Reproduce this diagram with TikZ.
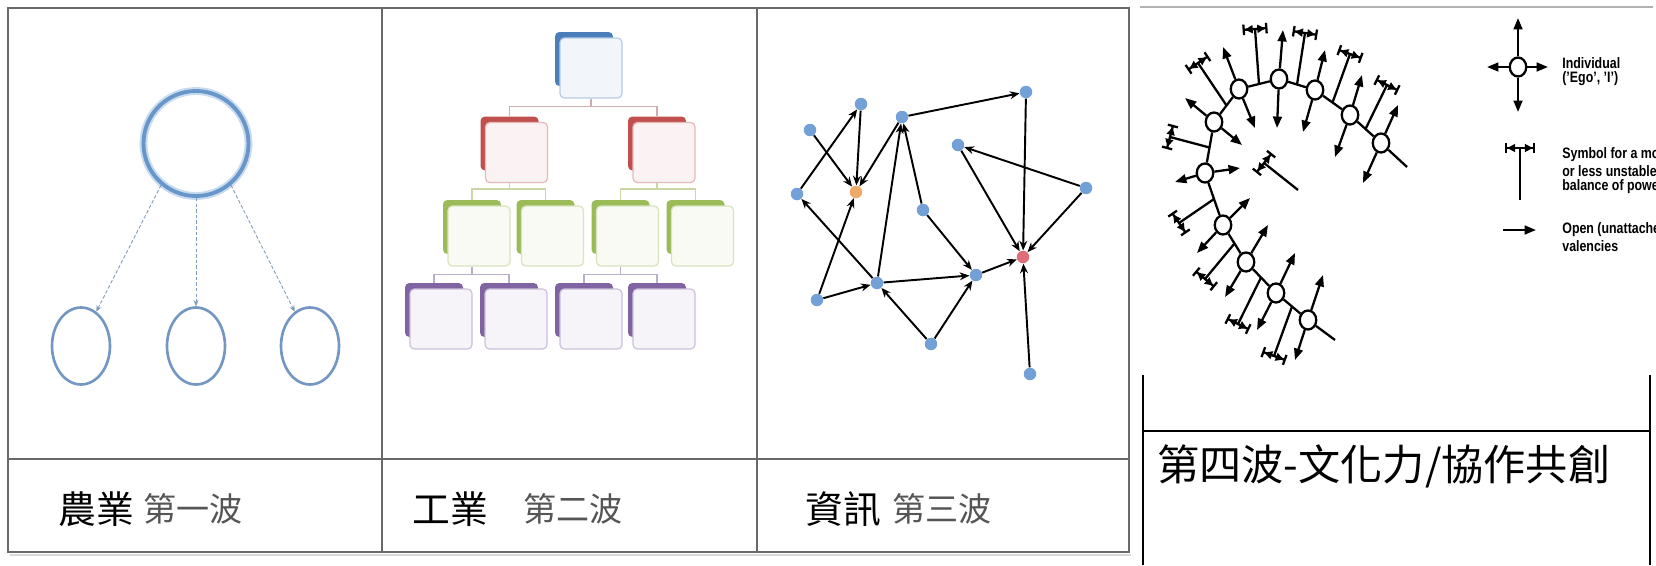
\documentclass[tikz,border=0pt]{standalone}
\usepackage{fontspec}
\setmainfont{Liberation Sans}
\newfontfamily\cjk{Noto Sans CJK TC}
\usetikzlibrary{arrows.meta,shapes.geometric,calc}
\definecolor{tline}{RGB}{105,105,105}
\definecolor{c1line}{RGB}{105,150,200}
\definecolor{c1glow}{RGB}{200,220,240}
\definecolor{c1small}{RGB}{115,150,195}
\definecolor{c1dash}{RGB}{130,155,185}
\definecolor{obblue}{RGB}{74,126,187}
\definecolor{obred}{RGB}{192,80,77}
\definecolor{obgreen}{RGB}{155,187,89}
\definecolor{obpurple}{RGB}{128,100,162}
\definecolor{cca}{RGB}{205,175,175}
\definecolor{ccb}{RGB}{200,215,165}
\definecolor{ccc}{RGB}{185,175,200}
\definecolor{ndblue}{RGB}{115,160,215}
\definecolor{ndorange}{RGB}{238,170,105}
\definecolor{ndred}{RGB}{222,110,120}
\definecolor{labgray}{RGB}{85,85,85}
\tikzset{
  tbl/.style={draw=tline, line width=1pt},
  bigc/.style={circle, draw=c1line, line width=2.2pt, minimum size=2.1cm, inner sep=0},
  smallc/.style={ellipse, draw=c1small, line width=1.5pt, minimum width=1.16cm, minimum height=1.54cm, inner sep=0},
  dashar/.style={draw=c1dash, line width=0.5pt, dash pattern=on 2pt off 1.2pt, -{Stealth[length=3.5pt,width=3pt]}},
  obox/.style={draw=#1!40, fill=#1!7, line width=0.7pt, rounded corners=2.5pt, minimum width=1.24cm, minimum height=1.2cm, inner sep=0},
  oback/.style={fill=#1, rounded corners=2.5pt, minimum width=1.16cm, minimum height=1.08cm, inner sep=0},
  oconn/.style={draw=#1, line width=0.8pt},
  nd/.style={circle, fill=ndblue, minimum size=0.25cm, inner sep=0},
  nedge/.style={draw=black, line width=1.1pt, -{Stealth[length=5.5pt,width=4.5pt]}},
  fc/.style={ellipse, draw=black, fill=white, line width=1.3pt, minimum width=0.33cm, minimum height=0.38cm, inner sep=0},
  blk/.style={draw=black, line width=1.3pt},
  val/.style={blk, -{Triangle[length=6.5pt,width=5pt]}},
  baltip/.style={blk, {Bar[width=6pt]Triangle[length=4.5pt,width=4.5pt]}-{Triangle[length=4.5pt,width=4.5pt]Bar[width=6pt]}},
  lab/.style={anchor=west, inner sep=0, font=\cjk\fontsize{21.5}{24}\selectfont},
  lab2/.style={anchor=west, inner sep=0, text=labgray, font=\cjk\fontsize{18.8}{22}\selectfont},
  leg/.style={anchor=west, inner sep=0, font=\bfseries\fontsize{8.6}{10}\selectfont},
}
\newcommand{\orgbox}[4]{\node[oback=#4] (#1b) at (#2-7,#3-9) {}; \node[obox=#4] (#1) at (#2,#3) {};}
\newcommand{\bal}[3]{\coordinate (#1s) at #2; \coordinate (#1e) at #3;
  \draw[blk] (#1s) -- (#1e);
  \draw[baltip] ($(#1e)!0.25cm!90:(#1s)$) -- ($(#1e)!0.25cm!-90:(#1s)$);}
\newcommand{\legtext}[1]{\scalebox{0.82}[1]{#1}}
\begin{document}
\begin{tikzpicture}[x=0.02cm,y=-0.02cm]
\useasboundingbox (0,0) rectangle (1656,565);
\fill[white] (0,0) rectangle (1656,565);
% ---------- table ----------
\draw[gray!30, line width=1.2pt] (10,555) -- (1131,555);
\draw[tbl] (8,8) rectangle (1129,552);
\draw[tbl] (382,8) -- (382,552);
\draw[tbl] (757,8) -- (757,552);
\draw[tbl] (8,459) -- (1129,459);
\node[lab] (l1a) at (58,509) {農業};
\node[lab2] (l1b) at (143,509) {第一波};
\node[lab] (l2a) at (412,509) {工業};
\node[lab2] (l2b) at (523,509) {第二波};
\node[lab] (l3a) at (805,509) {資訊};
\node[lab2] (l3b) at (892,509) {第三波};
% ---------- panel 1 ----------
\draw[c1glow, line width=4.5pt] (196,143.5) circle (1.05cm);
\node[bigc] (big) at (196,143.5) {};
\node[smallc] (e1) at (81,346) {};
\node[smallc] (e2) at (196,346) {};
\node[smallc] (e3) at (310,346) {};
\draw[dashar] (big.230) -- (e1.66);
\draw[dashar] (big.south) -- (e2.north);
\draw[dashar] (big.310) -- (e3.114);
% ---------- panel 2 ----------
\orgbox{t}{591}{68}{obblue}
\orgbox{rl}{516.5}{152.5}{obred}
\orgbox{rr}{664}{152.5}{obred}
\orgbox{ga}{479}{236}{obgreen}
\orgbox{gb}{552.5}{236}{obgreen}
\orgbox{gc}{627.5}{236}{obgreen}
\orgbox{gd}{702.5}{236}{obgreen}
\orgbox{pa}{441}{319}{obpurple}
\orgbox{pb}{516}{319}{obpurple}
\orgbox{pc}{591}{319}{obpurple}
\orgbox{pd}{664}{319}{obpurple}
\draw[oconn=cca] (t.south) -- ++(0,8) -| (rlb.north);
\draw[oconn=cca] (t.south) -- ++(0,8) -| (rrb.north);
\draw[oconn=ccb] (rlb.center |- rl.south) -- ++(0,6) -| (gab.north);
\draw[oconn=ccb] (rlb.center |- rl.south) -- ++(0,6) -| (gbb.north);
\draw[oconn=ccb] (rrb.center |- rr.south) -- ++(0,6) -| (gcb.north);
\draw[oconn=ccb] (rrb.center |- rr.south) -- ++(0,6) -| (gdb.north);
\draw[oconn=ccc] (gab.center |- ga.south) -- ++(0,8) -| (pab.north);
\draw[oconn=ccc] (gab.center |- ga.south) -- ++(0,8) -| (pbb.north);
\draw[oconn=ccc] (gcb.center |- gc.south) -- ++(0,8) -| (pcb.north);
\draw[oconn=ccc] (gcb.center |- gc.south) -- ++(0,8) -| (pdb.north);
% ---------- panel 3 ----------
\node[nd] (A) at (861,104) {};
\node[nd] (B) at (810,130) {};
\node[nd] (C) at (902,117) {};
\node[nd] (D) at (1026,92) {};
\node[nd] (E) at (958,145) {};
\node[nd] (F) at (797,194) {};
\node[nd, fill=ndorange] (G) at (856,192) {};
\node[nd] (H) at (923,210) {};
\node[nd] (I) at (1086,188) {};
\node[nd, fill=ndred] (J) at (1023,257) {};
\node[nd] (K) at (976,275) {};
\node[nd] (L) at (877,283) {};
\node[nd] (M) at (817,300) {};
\node[nd] (N) at (931,344) {};
\node[nd] (O) at (1030,374) {};
\draw[nedge] (B) -- (G);
\draw[nedge] (A) -- (G);
\draw[nedge] (C) -- (G);
\draw[nedge] (F) -- (A);
\draw[nedge] (M) -- (G);
\draw[nedge] (L) -- (F);
\draw[nedge] (M) -- (L);
\draw[nedge] (L) -- (C);
\draw[nedge] (H) -- (C);
\draw[nedge] (C) -- (D);
\draw[nedge] (D) -- (J);
\draw[nedge] (L) -- (K);
\draw[nedge] (H) -- (K);
\draw[nedge] (N) -- (L);
\draw[nedge] (N) -- (K);
\draw[nedge] (K) -- (J);
\draw[nedge] (E) -- (J);
\draw[nedge] (I) -- (J);
\draw[nedge] (I) -- (E);
\draw[nedge] (O) -- (J);
% ---------- panel 4 ----------
\draw[gray!60, line width=0.6pt] (1140,7) -- (1653,7);
\draw[black, line width=1.2pt] (1143,375) -- (1143,565);
\draw[black, line width=1.2pt] (1650,375) -- (1650,565);
\draw[black, line width=1.2pt] (1143,431) -- (1650,431);
\node[anchor=west, inner sep=0, font=\cjk\fontsize{24}{28}\selectfont] (t4) at (1157,466) {第四波-文化力/協作共創};
% figuration
\node[fc] (c1) at (1239,89) {};
\node[fc] (c2) at (1279,79) {};
\node[fc] (c3) at (1315,90) {};
\node[fc] (c4) at (1350,115) {};
\node[fc] (c5) at (1381,143) {};
\node[fc] (c6) at (1214,122) {};
\node[fc] (c7) at (1205,173) {};
\node[fc] (c8) at (1223,225) {};
\node[fc] (c9) at (1246,262) {};
\node[fc] (c10) at (1276,293) {};
\node[fc] (c11) at (1308,320) {};
\draw[blk] (c11) -- (c10) -- (c9) -- (c8) -- (c7) -- (c6) -- (c1) -- (c2) -- (c3) -- (c4) -- (c5);
\coordinate (t5) at (1407,167);
\coordinate (t11) at (1335,340);
\draw[blk] (c5) -- (t5);
\draw[blk] (c11) -- (t11);
\draw[val] (c1) -- (1223,47);
\draw[val] (c1) -- (1255,128);
\draw[val] (c2) -- (1283,30);
\draw[val] (c2) -- (1277,128);
\draw[val] (c3) -- (1325,50);
\draw[val] (c3) -- (1303,132);
\draw[val] (c4) -- (1362,75);
\draw[val] (c4) -- (1335,157);
\draw[val] (c5) -- (1398,105);
\draw[val] (c5) -- (1363,183);
\draw[val] (c6) -- (1185,98);
\draw[val] (c6) -- (1242,145);
\draw[val] (c7) -- (1175,182);
\draw[val] (c7) -- (1240,168);
\draw[val] (c8) -- (1250,198);
\draw[val] (c8) -- (1197,253);
\draw[val] (c9) -- (1268,225);
\draw[val] (c9) -- (1225,297);
\draw[val] (c10) -- (1295,253);
\draw[val] (c10) -- (1257,330);
\draw[val] (c11) -- (1323,275);
\draw[val] (c11) -- (1295,360);
\bal{ba}{($(c6)!0.5!(c1)$)}{(1198,63)}
\bal{bb}{($(c1)!0.5!(c2)$)}{(1255,29)}
\bal{bc}{($(c2)!0.5!(c3)$)}{(1305,33)}
\bal{bd}{($(c3)!0.5!(c4)$)}{(1350,54)}
\bal{be}{($(c4)!0.5!(c5)$)}{(1387,85)}
\bal{bf}{($(c6)!0.5!(c7)$)}{(1170,137)}
\bal{bg}{($(c7)!0.5!(c8)$)}{(1179,223)}
\bal{bh}{($(c8)!0.5!(c9)$)}{(1205,279)}
\bal{bi}{($(c9)!0.5!(c10)$)}{(1238,324)}
\bal{bj}{($(c10)!0.5!(c11)$)}{(1274,356)}
\bal{bk}{(1298,190)}{(1264,163)}
% legend
\node[fc] (lg) at (1518,67) {};
\draw[val] (lg) -- (1518,18);
\draw[val] (lg) -- (1518,112);
\draw[val] (lg) -- (1487,67);
\draw[val] (lg) -- (1548,67);
\coordinate (lbs) at (1520,200);
\coordinate (lbe) at (1520,148);
\draw[blk] (lbs) -- (lbe);
\coordinate (lbl) at (1505,148);
\coordinate (lbr) at (1535,148);
\draw[baltip] (lbl) -- (lbr);
\coordinate (lal) at (1503,230);
\coordinate (lar) at (1536,230);
\draw[val] (lal) -- (lar);
\begin{scope}
\clip (1550,0) rectangle (1656,300);
\node[leg] (ga1) at (1562,63) {\legtext{Individual}};
\node[leg] (ga2) at (1562,79) {\legtext{('Ego', 'I')}};
\node[leg] (gb1) at (1562,155) {\legtext{Symbol for a more}};
\node[leg] (gb2) at (1562,171) {\legtext{or less unstable}};
\node[leg] (gb3) at (1562,187) {\legtext{balance of power}};
\node[leg] (gc1) at (1562,230) {\legtext{Open (unattached)}};
\node[leg] (gc2) at (1562,246) {\legtext{valencies}};
\end{scope}
\end{tikzpicture}
\end{document}
